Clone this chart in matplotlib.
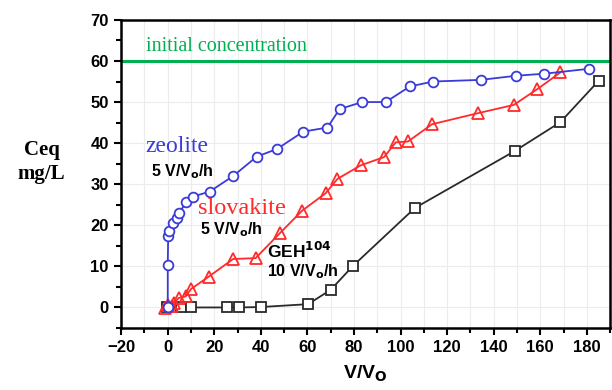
import matplotlib.pyplot as plt
from matplotlib.ticker import MultipleLocator

# zeolite, 5 V/Vo/h
zeo_x = [0, 0, 0.2, 0.7, 2.3, 4, 5, 7.9, 10.9, 18, 28.1, 38.2, 47, 58.2, 68.6,
         73.8, 83.6, 93.6, 104, 114, 134.5, 149.5, 161.8, 181]
zeo_y = [0, 10.4, 17.5, 18.7, 20.5, 21.7, 23.1, 25.6, 27, 28.2, 32, 36.7, 38.6,
         42.8, 43.8, 48.3, 50, 50, 53.8, 55, 55.4, 56.4, 56.9, 58.1]

# slovakite, 5 V/Vo/h
slo_x = [-1, 0.3, 1.9, 2.6, 4.7, 7.7, 10, 17.6, 28.1, 37.7, 48.2, 57.8, 67.8,
         72.9, 82.9, 92.9, 97.9, 103.2, 113.5, 133.3, 148.6, 158.6, 168.6]
slo_y = [-0.2, 0.5, 0.3, 1.1, 2.3, 2.7, 4.5, 7.5, 11.8, 12, 18.1, 23.6, 27.8,
         31.3, 34.6, 36.6, 40.2, 40.4, 44.6, 47.3, 49.3, 53.1, 57.2]

# GEH104, 10 V/Vo/h
geh_x = [-0.3, 5.5, 9.8, 25.5, 30.5, 39.9, 60.3, 70, 79.7, 106.1, 149.1, 168.6, 185.1]
geh_y = [0.1, 0, 0, 0, 0, 0.1, 0.8, 4.3, 10.2, 24.2, 38.1, 45.1, 55.2]

c0 = 60

blue = '#3b3bd8'
red = '#ff2a2a'
green = '#00b050'

fig = plt.figure(figsize=(6.12, 3.9), dpi=100)
ax = fig.add_axes([0.198, 0.159, 0.799, 0.79])

ax.axhline(c0, color=green, lw=2.2, zorder=2)
ax.plot(geh_x, geh_y, '-s', color='#2a2a2a', mfc='white', mec='#2a2a2a',
        ms=6.5, mew=1.3, lw=1.3, zorder=3)
ax.plot(slo_x, slo_y, '-^', color=red, mfc='none', mec=red,
        ms=8, mew=1.3, lw=1.3, zorder=4)
ax.plot(zeo_x, zeo_y, '-o', color=blue, mfc='white', mec=blue,
        ms=7, mew=1.3, lw=1.3, zorder=5)

ax.set_xlim(-20, 190)
ax.set_ylim(-5, 70)
ax.xaxis.set_major_locator(MultipleLocator(20))
ax.xaxis.set_minor_locator(MultipleLocator(10))
ax.yaxis.set_major_locator(MultipleLocator(10))
ax.yaxis.set_minor_locator(MultipleLocator(5))
ax.grid(True, which='minor', axis='x', color='#ececec', lw=0.8)
ax.grid(True, which='major', color='#ececec', lw=0.8)
ax.set_axisbelow(True)

for s in ax.spines.values():
    s.set_linewidth(1.8)
ax.tick_params(which='both', direction='out', width=1.5, top=False, right=False)
ax.tick_params(which='major', length=5, pad=4)
ax.tick_params(which='minor', length=3.5)
for lab in ax.get_xticklabels() + ax.get_yticklabels():
    lab.set_fontweight('bold')
    lab.set_fontsize(12)
    lab.set_fontfamily('Liberation Sans')

ax.set_xlabel('V/V$_\\mathbf{O}$', fontsize=14, fontweight='bold',
              family='Liberation Sans', labelpad=6)
fig.text(0.068, 0.585, 'Ceq\nmg/L', ha='center', va='center', fontsize=15,
         fontweight='bold', family='Liberation Serif', linespacing=1.25)

ax.text(-9.5, 61.3, 'initial concentration', color=green, fontsize=14.5,
        family='Liberation Serif', va='bottom')
ax.text(-9.5, 37.9, 'zeolite', color=blue, fontsize=17, family='Liberation Serif')
ax.text(-7.4, 32, '5 V/V$_\\mathbf{o}$/h', fontsize=11.5, fontweight='bold',
        family='Liberation Sans')
ax.text(12.8, 22.8, 'slovakite', color=red, fontsize=17.5, family='Liberation Serif')
ax.text(13.7, 17.7, '5 V/V$_\\mathbf{o}$/h', fontsize=11.5, fontweight='bold',
        family='Liberation Sans')
ax.text(42.5, 12, 'GEH$^\\mathbf{104}$', fontsize=12.5, fontweight='bold',
        family='Liberation Sans')
ax.text(42.5, 7.5, '10 V/V$_\\mathbf{o}$/h', fontsize=11.5, fontweight='bold',
        family='Liberation Sans')

fig.savefig('out.png', dpi=100)
